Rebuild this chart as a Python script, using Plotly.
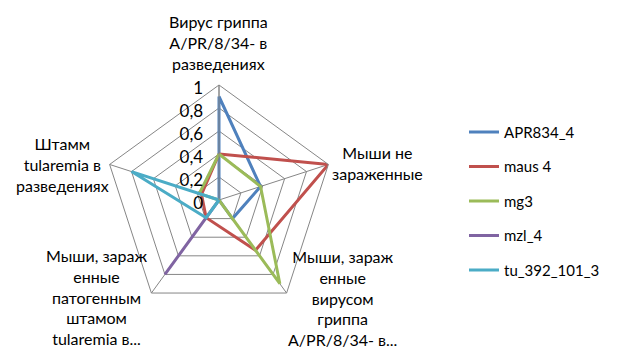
import plotly.graph_objects as go

categories = [
    "Вирус гриппа<br>A/PR/8/34- в<br>разведениях",
    "Мыши не<br>зараженные",
    "Мыши, зараж<br>енные<br>вирусом<br>гриппа<br>A/PR/8/34- в...",
    "Мыши, зараж<br>енные<br>патогенным<br>штамом<br>tularemia в...",
    "Штамм<br>tularemia в<br>разведениях",
]
series_names = ["APR834_4", "maus 4", "mg3", "mzl_4", "tu_392_101_3"]
apr834_4 = [0.9, 0.38, 0.2, 0.0, 0.0]
maus_4 = [0.4, 1.0, 0.54, 0.19, 0.16]
mg3 = [0.4, 0.38, 0.9, 0.0, 0.18]
mzl_4 = [0.0, 0.0, 0.0, 0.8, 0.0]
tu_392_101_3 = [0.0, 0.0, 0.0, 0.19, 0.8]
tick_vals = [0, 0.2, 0.4, 0.6, 0.8, 1]
tick_text = ["0", "0,2", "0,4", "0,6", "0,8", "1"]

colors = ["#4F81BD", "#C0504D", "#9BBB59", "#8064A2", "#4BACC6"]
all_values = [apr834_4, maus_4, mg3, mzl_4, tu_392_101_3]

FONT = "Lato, 'Open Sans', sans-serif"

fig = go.Figure()
for i, (name, vals) in enumerate(zip(series_names, all_values)):
    fig.add_trace(go.Scatterpolar(
        r=vals + vals[:1],
        theta=categories + categories[:1],
        mode="lines",
        name=name,
        legendgroup=name,
        line=dict(color=colors[i], width=3),
        hoverinfo="skip",
    ))

cx, cy, R = 219, 200, 115
W, H = 640, 353

# category label placement (pixel centres of each label block)
label_pos = [(218, 42), (377, 163), (342, 298), (96, 297), (62, 164)]
for text, (lx, ly) in zip(categories, label_pos):
    fig.add_annotation(
        text=text, xref="paper", yref="paper",
        x=lx / W, y=1 - ly / H, xanchor="center", yanchor="middle",
        align="center", showarrow=False,
        font=dict(size=16, family=FONT, color="#000000"),
    )

fig.update_layout(
    width=W, height=H,
    margin=dict(l=0, r=0, t=0, b=0),
    paper_bgcolor="white",
    plot_bgcolor="white",
    font=dict(family=FONT, size=16, color="#000000"),
    polar=dict(
        domain=dict(x=[(cx - R) / W, (cx + R) / W],
                    y=[(H - cy - R) / H, (H - cy + R) / H]),
        bgcolor="white",
        gridshape="linear",
        radialaxis=dict(
            range=[0, 1],
            tickvals=tick_vals,
            ticktext=tick_text,
            angle=90,
            side="counterclockwise",
            showline=True,
            linecolor="#868686",
            linewidth=1,
            gridcolor="#868686",
            gridwidth=1,
            ticks="",
            tickfont=dict(size=17, family=FONT),
        ),
        angularaxis=dict(
            direction="clockwise",
            rotation=90,
            showline=True,
            linecolor="#868686",
            linewidth=1,
            gridcolor="#868686",
            gridwidth=1,
            ticks="",
            showticklabels=False,
        ),
    ),
    legend=dict(
        x=0.725, y=0.672, xanchor="left", yanchor="top",
        font=dict(size=15, family=FONT),
        tracegroupgap=12,
        bgcolor="rgba(0,0,0,0)",
    ),
)

fig.write_html("out.html")
